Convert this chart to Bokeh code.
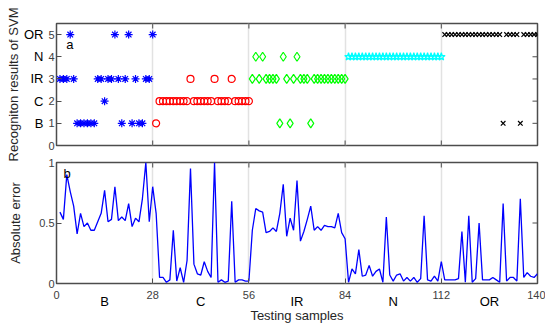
import numpy as np
from bokeh.plotting import figure
from bokeh.models import LinearAxis, FixedTicker, Range1d, Label
from bokeh.layouts import column
from bokeh.embed import file_html
from bokeh.resources import INLINE

# ---------------- data ----------------
classes = ["B", "C", "IR", "N", "OR"]
class_codes = [1, 2, 3, 4, 5]
samples_per_class = 28
x_ticks = [0, 28, 56, 84, 112, 140]
y_ticks_top = [0, 1, 2, 3, 4, 5]
y_ticks_bottom = [0, 0.5, 1]

pred_B = [3, 3, 3, 5, 3, 1, 1, 1, 1, 1, 1, 3, 3, 2, 3, 3, 5, 3, 1, 3, 5, 1, 3, 1, 1, 3, 3, 5]
pred_C = [1, 2, 2, 2, 2, 2, 2, 2, 2, 2, 3, 2, 2, 2, 2, 2, 2, 3, 2, 2, 2, 2, 3, 2, 2, 2, 2, 2]
pred_IR = [3, 4, 3, 4, 3, 3, 3, 3, 1, 4, 3, 1, 3, 4, 3, 3, 3, 1, 3, 3, 3, 3, 3, 3, 3, 3, 3, 3]
pred_N = [4] * 28
pred_OR = [5, 5, 5, 5, 5, 5, 5, 5, 5, 5, 5, 5, 5, 5, 5, 5, 5, 1, 5, 5, 5, 5, 1, 5, 5, 5, 5, 5]

abs_error = [
    0.59, 0.53, 0.90, 0.76, 0.64, 0.41, 0.58, 0.47, 0.50, 0.44,
    0.44, 0.51, 0.58, 0.77, 0.51, 0.53, 0.80, 0.52, 0.55, 0.52,
    0.66, 0.47, 0.54, 0.51, 0.70, 1.00, 0.51, 0.80, 0.58, 0.05,
    0.05, 0.01, 0.03, 0.44, 0.02, 0.13, 0.01, 0.19, 0.95, 0.16,
    0.08, 0.07, 0.18, 0.10, 0.05, 1.00, 0.01, 0.03, 0.01, 0.02,
    0.68, 0.01, 0.03, 0.03, 0.02, 0.02, 0.44, 0.62, 0.60, 0.59,
    0.42, 0.43, 0.46, 0.43, 0.58, 0.82, 0.39, 0.54, 0.44, 0.85,
    0.35, 0.43, 0.53, 0.64, 0.44, 0.47, 0.44, 0.48, 0.47, 0.47,
    0.46, 0.58, 0.42, 0.37, 0.01, 0.12, 0.08, 0.28, 0.06, 0.07,
    0.15, 0.06, 0.10, 0.12, 0.01, 0.55, 0.07, 0.02, 0.07, 0.08,
    0.02, 0.05, 0.02, 0.05, 0.01, 0.04, 0.56, 0.03, 0.02, 0.06,
    0.02, 0.18, 0.03, 0.03, 0.03, 0.03, 0.04, 0.43, 0.01, 0.56,
    0.01, 0.04, 0.50, 0.03, 0.03, 0.03, 0.05, 0.03, 0.01, 0.66,
    0.02, 0.05, 0.05, 0.02, 0.70, 0.05, 0.09, 0.06, 0.05, 0.08,
]

predictions = [pred_B, pred_C, pred_IR, pred_N, pred_OR]
markers = ["asterisk", "circle", "diamond", "star", "x"]
colors = ["#0000ff", "#ff0000", "#00ff00", "#00ffff", "#000000"]
sizes = [8, 7, 9, 8, 6.5]

FONT = "Liberation Sans"
AX = "#4d4d4d"
TXT = "#404040"
LBL = "#262626"
GRID = "#e2e2e2"

W = 545
LEFT = 56
RIGHT = 8


def style_main_axis(ax, ticks):
    ax.ticker = FixedTicker(ticks=ticks)
    ax.axis_line_color = None
    ax.major_tick_in = 5
    ax.major_tick_out = 0
    ax.major_tick_line_color = AX
    ax.minor_tick_line_color = None
    ax.major_label_text_font = FONT
    ax.major_label_text_font_size = "11px"
    ax.major_label_text_color = TXT


def style_axis_label(ax, text, standoff):
    ax.axis_label = text
    ax.axis_label_text_font = FONT
    ax.axis_label_text_font_size = "13px"
    ax.axis_label_text_font_style = "normal"
    ax.axis_label_text_color = LBL
    ax.axis_label_standoff = standoff


def style_fig(p):
    p.outline_line_color = AX
    p.outline_line_width = 1.5
    p.border_fill_alpha = 0
    p.background_fill_color = "white"
    p.ygrid.grid_line_color = None
    p.xgrid.ticker = FixedTicker(ticks=x_ticks[1:-1])
    p.xgrid.grid_line_color = GRID
    p.xgrid.grid_line_width = 1.5


def mirror_ticks(p, x_edges, y_edges, x_vals, y_vals):
    # short inward tick marks on the frame edges without an axis of their own
    for ye in y_edges:
        p.scatter(x_vals, [ye] * len(x_vals), marker="dash", size=10, angle=np.pi / 2,
                  line_color=AX, line_width=1)
    for xe in x_edges:
        p.scatter([xe] * len(y_vals), y_vals, marker="dash", size=10,
                  line_color=AX, line_width=1)


# ---------------- top panel ----------------
top = figure(width=W, height=170, output_backend="svg", toolbar_location=None,
             x_range=Range1d(0, 140), y_range=Range1d(0, 5.5),
             min_border_left=LEFT, min_border_right=RIGHT,
             min_border_top=23, min_border_bottom=25)
style_fig(top)
top.xaxis.visible = False
style_main_axis(top.yaxis[0], y_ticks_top)
top.yaxis[0].major_label_standoff = 2

cat_axis = LinearAxis(ticker=FixedTicker(ticks=class_codes),
                      major_label_overrides={c: n for c, n in zip(class_codes, classes)})
cat_axis.axis_line_color = None
cat_axis.major_tick_line_color = None
cat_axis.minor_tick_line_color = None
cat_axis.major_label_text_font = FONT
cat_axis.major_label_text_font_size = "13px"
cat_axis.major_label_text_color = "#000000"
cat_axis.major_label_standoff = -4
style_axis_label(cat_axis, "Recogniton results of SVM", 0)
top.add_layout(cat_axis, "left")

mirror_ticks(top, [top.x_range.end], [top.y_range.start, top.y_range.end],
             x_ticks[1:-1], y_ticks_top[1:])

for k, preds in enumerate(predictions):
    xs = np.arange(k * samples_per_class + 1, (k + 1) * samples_per_class + 1)
    top.scatter(xs, preds, marker=markers[k], size=sizes[k],
                line_color=colors[k], fill_color=None, line_width=1.2)

top.add_layout(Label(x=3.9, y=4.56, text="a", text_font=FONT, text_font_size="13px",
                     text_color="#000000", text_align="center", text_baseline="middle"))

# ---------------- bottom panel ----------------
bot = figure(width=W, height=176, output_backend="svg", toolbar_location=None,
             x_range=Range1d(0, 140), y_range=Range1d(0, 1),
             min_border_left=LEFT, min_border_right=RIGHT,
             min_border_top=12, min_border_bottom=43)
bot.margin = (-20, 0, 0, 0)
style_fig(bot)
style_main_axis(bot.yaxis[0], y_ticks_bottom)
bot.yaxis[0].major_label_standoff = 2
style_axis_label(bot.yaxis[0], "Absolute error", 13)

style_main_axis(bot.xaxis[0], x_ticks)
bot.xaxis[0].major_label_standoff = 7

mids = [(k + 0.5) * samples_per_class for k in range(len(classes))]
cls_axis = LinearAxis(ticker=FixedTicker(ticks=mids),
                      major_label_overrides={m: n for m, n in zip(mids, classes)})
cls_axis.axis_line_color = None
cls_axis.major_tick_line_color = None
cls_axis.minor_tick_line_color = None
cls_axis.major_label_text_font = FONT
cls_axis.major_label_text_font_size = "13px"
cls_axis.major_label_text_color = "#000000"
cls_axis.major_label_standoff = -14
style_axis_label(cls_axis, "Testing samples", -4)
bot.add_layout(cls_axis, "below")

mirror_ticks(bot, [bot.x_range.end], [bot.y_range.end], x_ticks[1:-1], y_ticks_bottom[1:-1])

samples = np.arange(1, len(abs_error) + 1)
bot.line(samples, abs_error, line_color="#0000ff", line_width=1.3)

bot.add_layout(Label(x=3.1, y=0.91, text="b", text_font=FONT, text_font_size="13px",
                     text_color="#000000", text_align="center", text_baseline="middle"))

layout = column(top, bot)
open("out.html", "w").write(file_html(layout, INLINE))
